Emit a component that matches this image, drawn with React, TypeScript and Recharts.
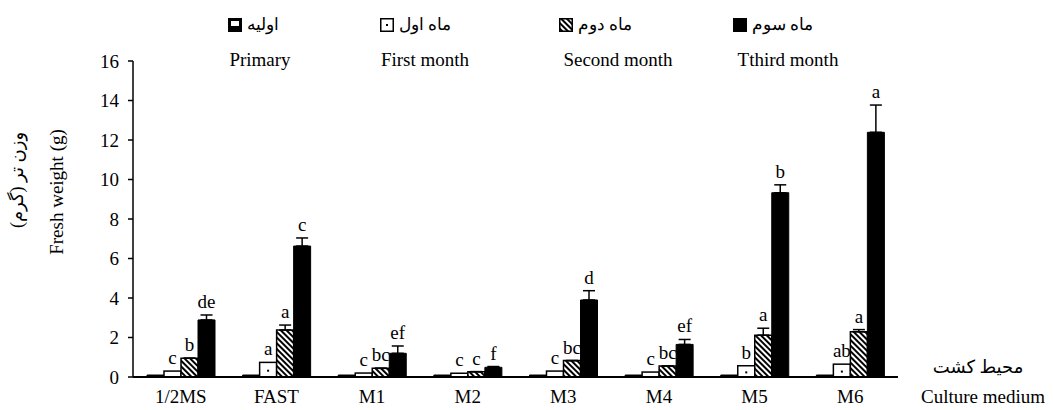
import React from 'react';
import { BarChart, Bar, XAxis, YAxis, ErrorBar, LabelList } from 'recharts';

const categories = ['1/2MS', 'FAST', 'M1', 'M2', 'M3', 'M4', 'M5', 'M6'];

const primary = [0.1, 0.1, 0.1, 0.1, 0.1, 0.1, 0.1, 0.1];
const firstMonth = [0.3, 0.74, 0.2, 0.19, 0.3, 0.25, 0.57, 0.65];
const secondMonth = [0.95, 2.38, 0.44, 0.27, 0.83, 0.56, 2.12, 2.29];
const thirdMonth = [2.89, 6.63, 1.2, 0.49, 3.9, 1.65, 9.33, 12.39];

const secondErr = [0, 0.25, 0, 0, 0, 0, 0.35, 0.11];
const thirdErr = [0.25, 0.41, 0.37, 0.04, 0.47, 0.25, 0.4, 1.38];

const firstLetters = ['c', 'a', 'c', 'c', 'c', 'c', 'b', 'ab'];
const secondLetters = ['b', 'a', 'bc', 'c', 'bc', 'bc', 'a', 'a'];
const thirdLetters = ['de', 'c', 'ef', 'f', 'd', 'ef', 'b', 'a'];

const yTicks = [0, 2, 4, 6, 8, 10, 12, 14, 16];

const FONT = "'Liberation Serif', 'DejaVu Sans', serif";

const data = categories.map((name, i) => ({
  name,
  primary: primary[i],
  first: firstMonth[i],
  second: secondMonth[i],
  third: thirdMonth[i],
  secondErr: [0, secondErr[i]],
  thirdErr: [0, thirdErr[i]],
}));

const letterContent = (letters: string[], values: number[], errs: number[]) => (props: any) => {
  const { x, y, width, height, index } = props;
  const v = values[index];
  const errPx = v > 0 ? (errs[index] / v) * Number(height) : 0;
  return (
    <text
      x={Number(x) + Number(width) / 2}
      y={Number(y) - errPx - 7}
      textAnchor="middle"
      fontFamily={FONT}
      fontSize={19}
      fill="#000"
    >
      {letters[index]}
    </text>
  );
};

const FirstShape = (props: any) => {
  const { x, y, width, height } = props;
  return (
    <g>
      <rect x={x} y={y} width={width} height={height} fill="#fff" stroke="#000" strokeWidth={1.5} />
      {height > 8 && <rect x={x + width / 2 - 1} y={y + height / 2} width={2} height={2} fill="#000" />}
    </g>
  );
};

const legendItems = [
  { fa: 'اولیه', en: 'Primary', icon: 'primary', x: 228, cx: 260 },
  { fa: 'ماه اول', en: 'First month', icon: 'first', x: 380, cx: 425 },
  { fa: 'ماه دوم', en: 'Second month', icon: 'second', x: 559, cx: 618 },
  { fa: 'ماه سوم', en: 'Tthird month', icon: 'third', x: 733, cx: 788 },
];

const LegendIcon = ({ kind }: { kind: string }) => (
  <svg width={14} height={14} style={{ display: 'block' }}>
    {kind === 'primary' && (
      <g>
        <rect x={0} y={0} width={14} height={14} fill="#000" />
        <rect x={3} y={3} width={8} height={5} fill="#fff" />
      </g>
    )}
    {kind === 'first' && (
      <g>
        <rect x={0.75} y={0.75} width={12.5} height={12.5} fill="#fff" stroke="#000" strokeWidth={1.5} />
        <rect x={6} y={6} width={2} height={2} fill="#000" />
      </g>
    )}
    {kind === 'second' && (
      <rect x={0.75} y={0.75} width={12.5} height={12.5} fill="url(#hatch)" stroke="#000" strokeWidth={1.5} />
    )}
    {kind === 'third' && <rect x={0} y={0} width={14} height={14} fill="#000" />}
  </svg>
);

export default function App() {
  return (
    <div style={{ position: 'absolute', left: 0, top: 0, width: 1053, height: 410, background: '#fff', fontFamily: FONT }}>
      <svg width={0} height={0} style={{ position: 'absolute' }}>
        <defs>
          <pattern id="hatch" patternUnits="userSpaceOnUse" width={4} height={4} patternTransform="rotate(-45)">
            <rect x={0} y={0} width={4} height={4} fill="#fff" />
            <rect x={0} y={0} width={2} height={4} fill="#000" />
          </pattern>
        </defs>
      </svg>

      {legendItems.map((it) => (
        <React.Fragment key={it.en}>
          <div style={{ position: 'absolute', left: it.x, top: 14, height: 22, display: 'flex', alignItems: 'center' }}>
            <LegendIcon kind={it.icon} />
            <span
              dir="rtl"
              style={{ marginLeft: 5, fontSize: 17, fontFamily: FONT, fontWeight: 300, lineHeight: '22px' }}
            >
              {it.fa}
            </span>
          </div>
          <div
            style={{
              position: 'absolute',
              left: it.cx - 80,
              width: 160,
              top: 49,
              lineHeight: '22px',
              textAlign: 'center',
              fontSize: 19,
              fontFamily: FONT,
            }}
          >
            {it.en}
          </div>
        </React.Fragment>
      ))}

      <div
        dir="rtl"
        style={{
          position: 'absolute',
          left: 17 - 80,
          top: 180 - 11,
          width: 160,
          height: 22,
          lineHeight: '22px',
          textAlign: 'center',
          fontSize: 18,
          transform: 'rotate(-90deg)',
        }}
      >
        وزن تر (گرم)
      </div>
      <div
        style={{
          position: 'absolute',
          left: 57 - 80,
          top: 192 - 11,
          width: 160,
          height: 22,
          lineHeight: '22px',
          textAlign: 'center',
          fontSize: 19,
          transform: 'rotate(-90deg)',
        }}
      >
        Fresh weight (g)
      </div>

      <div
        dir="rtl"
        style={{ position: 'absolute', left: 913, width: 130, top: 356, lineHeight: '22px', textAlign: 'center', fontSize: 18 }}
      >
        محیط کشت
      </div>
      <div
        style={{ position: 'absolute', left: 908, width: 150, top: 386, lineHeight: '22px', textAlign: 'center', fontSize: 19 }}
      >
        Culture medium
      </div>

      <div style={{ position: 'absolute', left: 0, top: 0 }}>
        <BarChart
          width={1053}
          height={410}
          data={data}
          margin={{ top: 61, right: 155, bottom: 0, left: 93 }}
          barSize={17}
          barGap={0}
        >
          <XAxis
            dataKey="name"
            axisLine={{ stroke: '#000', strokeWidth: 2 }}
            tickLine={false}
            tickMargin={7}
            height={33}
            tick={{ fill: '#000', fontSize: 19, fontFamily: FONT }}
          />
          <YAxis
            domain={[0, 16]}
            ticks={yTicks}
            width={40}
            axisLine={{ stroke: '#000', strokeWidth: 1.5 }}
            tickLine={{ stroke: '#000', strokeWidth: 1.5 }}
            tickSize={5}
            tickMargin={9}
            tick={{ fill: '#000', fontSize: 19, fontFamily: FONT }}
            interval={0}
          />
          <Bar dataKey="primary" fill="#000" stroke="#000" strokeWidth={1} isAnimationActive={false} />
          <Bar dataKey="first" shape={<FirstShape />} isAnimationActive={false}>
            <LabelList dataKey="first" content={letterContent(firstLetters, firstMonth, firstMonth.map(() => 0))} />
          </Bar>
          <Bar dataKey="second" fill="url(#hatch)" stroke="#000" strokeWidth={1.5} isAnimationActive={false}>
            <ErrorBar dataKey="secondErr" width={6} stroke="#000" strokeWidth={1.5} direction="y" />
            <LabelList dataKey="second" content={letterContent(secondLetters, secondMonth, secondErr)} />
          </Bar>
          <Bar dataKey="third" fill="#000" stroke="#000" strokeWidth={1} isAnimationActive={false}>
            <ErrorBar dataKey="thirdErr" width={6} stroke="#000" strokeWidth={1.5} direction="y" />
            <LabelList dataKey="third" content={letterContent(thirdLetters, thirdMonth, thirdErr)} />
          </Bar>
        </BarChart>
      </div>
    </div>
  );
}
